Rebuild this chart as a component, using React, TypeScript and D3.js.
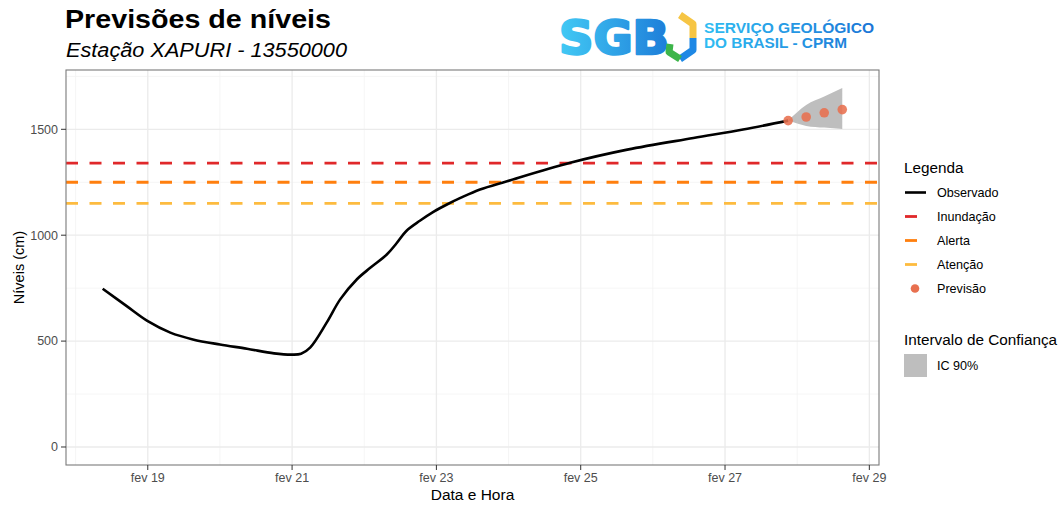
import React from 'react';
import * as d3 from 'd3';

// observed levels (cm)
const obsTimes = [
  '2024-02-18 09:00', '2024-02-18 17:00', '2024-02-19 00:00', '2024-02-19 07:30', '2024-02-19 15:00',
  '2024-02-20 00:00', '2024-02-20 09:00', '2024-02-20 18:00', '2024-02-21 00:00', '2024-02-21 03:00',
  '2024-02-21 06:00', '2024-02-21 11:30', '2024-02-21 16:00', '2024-02-21 21:30', '2024-02-22 02:00',
  '2024-02-22 07:30', '2024-02-22 10:45', '2024-02-22 14:00', '2024-02-22 18:30', '2024-02-22 23:00',
  '2024-02-23 03:30', '2024-02-23 08:00', '2024-02-23 14:30', '2024-02-23 23:30', '2024-02-24 20:30',
  '2024-02-25 15:30', '2024-02-26 13:30', '2024-02-27 06:00', '2024-02-27 21:00',
];
const obsValues = [
  747, 665, 594, 540, 508,
  484, 464, 442, 436, 440,
  469, 587, 697, 791, 846,
  909, 962, 1020, 1068, 1110,
  1145, 1176, 1216, 1255, 1342,
  1404, 1459, 1499, 1541,
];

// forecast + 90% interval
const fcTimes = ['2024-02-27 21:00', '2024-02-28 03:00', '2024-02-28 09:00', '2024-02-28 15:00'];
const fcValues = [1541, 1558, 1578, 1593];
const fcLower = [1541, 1516, 1508, 1502];
const fcUpper = [1541, 1615, 1655, 1695];

// thresholds
const thresholdNames = ['Inundação', 'Alerta', 'Atenção'];
const thresholdValues = [1340, 1250, 1150];
const thresholdColors = ['#E0282A', '#FF7F0E', '#FDBB3F'];

const yTicks = [0, 500, 1000, 1500];
const yMinor = [250, 750, 1250, 1750];

const parse = d3.timeParse('%Y-%m-%d %H:%M');
const FONT = 'Liberation Sans, Arial, sans-serif';

export default function App() {
  const W = 1064, H = 506;
  const panel = { left: 66, right: 879, top: 70, bottom: 465 };

  const x = d3.scaleTime()
    .domain([parse('2024-02-17 20:48')!, parse('2024-02-29 03:13')!])
    .range([panel.left, panel.right]);
  const y = d3.scaleLinear().domain([-85, 1780]).range([panel.bottom, panel.top]);

  const majorDays = d3.timeDay.every(2)!.range(x.domain()[0], x.domain()[1]);
  const minorDays = d3.timeDay.range(x.domain()[0], x.domain()[1]).filter(d => d.getDate() % 2 === 0);

  const obs = obsTimes.map((t, i) => ({ t: parse(t)!, v: obsValues[i] }));
  const fc = fcTimes.map((t, i) => ({ t: parse(t)!, v: fcValues[i], lo: fcLower[i], hi: fcUpper[i] }));

  const line = d3.line<{ t: Date; v: number }>()
    .x(d => x(d.t))
    .y(d => y(d.v))
    .curve(d3.curveCatmullRom.alpha(0.5));
  const area = d3.area<{ t: Date; lo: number; hi: number }>()
    .x(d => x(d.t))
    .y0(d => y(d.lo))
    .y1(d => y(d.hi))
    .curve(d3.curveMonotoneX);

  const legendItems = [
    { label: 'Observado', kind: 'line', color: '#000' },
    ...thresholdNames.map((n, i) => ({ label: n, kind: 'dash', color: thresholdColors[i] })),
    { label: 'Previsão', kind: 'dot', color: '#E8704F' },
  ];

  return (
    <svg width={W} height={H} style={{ position: 'absolute', left: 0, top: 0, background: '#fff' }} fontFamily={FONT}>
      <defs>
        <linearGradient id="sgbGrad" gradientUnits="userSpaceOnUse" x1={557} y1={0} x2={672} y2={0}>
          <stop offset="0%" stopColor="#43CBF5" />
          <stop offset="100%" stopColor="#1C7BD8" />
        </linearGradient>
        <linearGradient id="txtGrad" gradientUnits="userSpaceOnUse" x1={704} y1={0} x2={875} y2={0}>
          <stop offset="0%" stopColor="#30BDF2" />
          <stop offset="100%" stopColor="#1B74D6" />
        </linearGradient>
        <clipPath id="panelClip">
          <rect x={panel.left} y={panel.top} width={panel.right - panel.left} height={panel.bottom - panel.top} />
        </clipPath>
      </defs>

      {/* titles */}
      <text x={65} y={28} fontSize={25} fontWeight="bold" textLength={266} lengthAdjust="spacingAndGlyphs">Previsões de níveis</text>
      <text x={66} y={57} fontSize={20} fontStyle="italic" textLength={281} lengthAdjust="spacingAndGlyphs">Estação XAPURI - 13550000</text>

      {/* logo */}
      <g>
        <text x={559} y={54} fontSize={46} fontWeight="bold" fill="url(#sgbGrad)" stroke="url(#sgbGrad)" strokeWidth={2.5}
          strokeLinejoin="round" fontFamily="DejaVu Sans, sans-serif" textLength={110} lengthAdjust="spacingAndGlyphs">SGB</text>
        <polyline points="680,15 693,24 693,38" fill="none" stroke="#F6C544" strokeWidth={7} strokeLinejoin="round" />
        <polyline points="693,38 693,50 680,59" fill="none" stroke="#1E88E5" strokeWidth={7} strokeLinejoin="round" />
        <polyline points="680,59 669,52 670,44" fill="none" stroke="#3DB54A" strokeWidth={7} strokeLinejoin="round" />
        <text x={704} y={33} fontSize={14} fontWeight="bold" fill="url(#txtGrad)" textLength={170} lengthAdjust="spacingAndGlyphs">SERVIÇO GEOLÓGICO</text>
        <text x={704} y={48} fontSize={14} fontWeight="bold" fill="url(#txtGrad)" textLength={143} lengthAdjust="spacingAndGlyphs">DO BRASIL - CPRM</text>
      </g>

      {/* grid */}
      <g>
        {yMinor.map(v => (
          <line key={'ym' + v} x1={panel.left} x2={panel.right} y1={y(v)} y2={y(v)} stroke="#F2F2F2" strokeWidth={0.8} />
        ))}
        {minorDays.map(d => (
          <line key={'xm' + d.getTime()} x1={x(d)} x2={x(d)} y1={panel.top} y2={panel.bottom} stroke="#F2F2F2" strokeWidth={0.8} />
        ))}
        {yTicks.map(v => (
          <line key={'yg' + v} x1={panel.left} x2={panel.right} y1={y(v)} y2={y(v)} stroke="#EBEBEB" strokeWidth={1.3} />
        ))}
        {majorDays.map(d => (
          <line key={'xg' + d.getTime()} x1={x(d)} x2={x(d)} y1={panel.top} y2={panel.bottom} stroke="#EBEBEB" strokeWidth={1.3} />
        ))}
      </g>

      <g clipPath="url(#panelClip)">
        {thresholdValues.map((v, i) => (
          <line key={'th' + i} x1={panel.left} x2={panel.right} y1={y(v)} y2={y(v)}
            stroke={thresholdColors[i]} strokeWidth={2.8} strokeDasharray="12 11.5" />
        ))}
        <path d={area(fc) || ''} fill="#BEBEBE" />
        <path d={line(obs) || ''} fill="none" stroke="#000" strokeWidth={2.6} strokeLinejoin="round" />
        {fc.map((d, i) => (
          <circle key={'fc' + i} cx={x(d.t)} cy={y(d.v)} r={4.8} fill="#E8704F" opacity={0.88} />
        ))}
      </g>

      {/* panel border */}
      <rect x={panel.left} y={panel.top} width={panel.right - panel.left} height={panel.bottom - panel.top}
        fill="none" stroke="#7A7A7A" strokeWidth={1.1} />

      {/* y axis */}
      {yTicks.map(v => (
        <g key={'yt' + v}>
          <line x1={panel.left - 5} x2={panel.left} y1={y(v)} y2={y(v)} stroke="#333" strokeWidth={1} />
          <text x={panel.left - 8} y={y(v)} dy="0.35em" textAnchor="end" fontSize={12.5} fill="#4D4D4D">{v}</text>
        </g>
      ))}
      <text transform={`translate(19,${(panel.top + panel.bottom) / 2}) rotate(-90)`} textAnchor="middle"
        dy="0.35em" fontSize={14.5}>Níveis (cm)</text>

      {/* x axis */}
      {majorDays.map(d => (
        <g key={'xt' + d.getTime()}>
          <line x1={x(d)} x2={x(d)} y1={panel.bottom} y2={panel.bottom + 5} stroke="#333" strokeWidth={1} />
          <text x={x(d)} y={panel.bottom + 17} textAnchor="middle" fontSize={12.5} fill="#4D4D4D">{`fev ${d.getDate()}`}</text>
        </g>
      ))}
      <text x={(panel.left + panel.right) / 2} y={500} textAnchor="middle" fontSize={15.5}>Data e Hora</text>

      {/* legend */}
      <text x={904} y={173} fontSize={15.3}>Legenda</text>
      {legendItems.map((it, i) => {
        const cy = 192.5 + i * 24;
        return (
          <g key={'lg' + i}>
            {it.kind === 'line' && <line x1={905} x2={926} y1={cy} y2={cy} stroke={it.color} strokeWidth={2.6} />}
            {it.kind === 'dash' && <line x1={905} x2={917} y1={cy} y2={cy} stroke={it.color} strokeWidth={2.8} />}
            {it.kind === 'dot' && <circle cx={915} cy={cy} r={4.3} fill={it.color} />}
            <text x={937} y={cy} dy="0.35em" fontSize={12.6}>{it.label}</text>
          </g>
        );
      })}
      <text x={904} y={345} fontSize={15.3}>Intervalo de Confiança</text>
      <rect x={904} y={354} width={23} height={23} fill="#BEBEBE" />
      <text x={937} y={366} dy="0.35em" fontSize={12.6}>IC 90%</text>
    </svg>
  );
}
